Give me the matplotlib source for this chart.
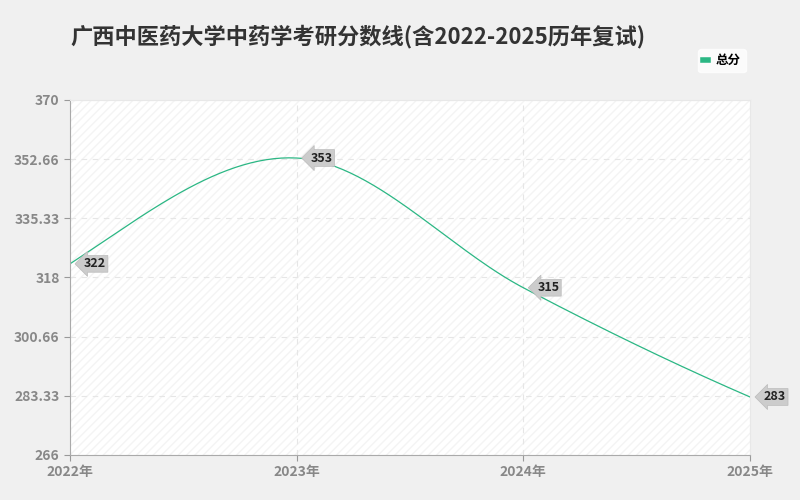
import matplotlib
matplotlib.use("Agg")
import matplotlib.pyplot as plt
import numpy as np

plt.rcParams['font.family'] = ['Noto Sans CJK SC', 'DejaVu Sans']

years = [2022, 2023, 2024, 2025]
xlabels = ['2022年', '2023年', '2024年', '2025年']
values = [322, 353, 315, 283]
yticks = [266, 283.33, 300.66, 318, 335.33, 352.66, 370]
ytlabels = ['266', '283.33', '300.66', '318', '335.33', '352.66', '370']
series_name = '总分'
color = '#2bb784'

fig = plt.figure(figsize=(8, 5), dpi=100, facecolor='#f0f0f0')
ax = fig.add_axes([70/800, 45/500, 680/800, 355/500])
ax.set_facecolor('white')
ax.patch.set_hatch('////')
ax.patch.set_edgecolor('#f4f4f4')

# smooth curve (Catmull-Rom style cubic Hermite rendering)
x = np.array(years, float); y = np.array(values, float)
m = np.zeros_like(y)
for i in range(1, len(y)-1):
    m[i] = (y[i+1] - y[i-1]) / (x[i+1] - x[i-1])
m[0] = (y[1] - y[0]) / (x[1] - x[0]) * 1.4
m[-1] = (y[-1] - y[-2]) / (x[-1] - x[-2]) * 0.9
xs, ys = [], []
for i in range(len(x)-1):
    t = np.linspace(0, 1, 60); h = x[i+1]-x[i]
    h00 = 2*t**3-3*t**2+1; h10 = t**3-2*t**2+t; h01 = -2*t**3+3*t**2; h11 = t**3-t**2
    xs.extend(x[i] + t*h); ys.extend(h00*y[i] + h10*h*m[i] + h01*y[i+1] + h11*h*m[i+1])
ax.plot(xs, ys, color=color, lw=0.9, label=series_name)

for xi, yi in zip(years, values):
    ax.annotate(str(yi), (xi, yi), xytext=(10, 0), textcoords='offset points',
                va='center', ha='left', fontsize=9, color='#222', fontweight='bold',
                bbox=dict(boxstyle='larrow,pad=0.15', fc='#cccccc', ec='#bbbbbb', lw=0.5))

ax.set_xlim(2022, 2025)
ax.set_ylim(266, 370)
ax.set_xticks(years); ax.set_xticklabels(xlabels)
ax.set_yticks(yticks); ax.set_yticklabels(ytlabels)
ax.tick_params(colors='#999999', labelsize=10, length=4)
for lbl in ax.get_xticklabels() + ax.get_yticklabels():
    lbl.set_color('#888888'); lbl.set_fontweight('bold')
ax.grid(True, ls=(0, (5, 5)), color='#e6e6e6', lw=0.8)
for s in ['top', 'right']:
    ax.spines[s].set_color('#e8e8e8')
for s in ['left', 'bottom']:
    ax.spines[s].set_color('#aaaaaa')

fig.text(70/800, 1-37/500, '广西中医药大学中药学考研分数线(含2022-2025历年复试)', fontsize=16,
         fontweight='bold', color='#333333', va='center', ha='left')
leg = fig.legend(loc='upper right', bbox_to_anchor=(752/800, 1-43/500), fontsize=9,
                 handlelength=0.4, handletextpad=0.6, frameon=True, borderpad=0.4,
                 prop={'weight': 'bold', 'size': 9})
leg.get_frame().set_facecolor('white'); leg.get_frame().set_edgecolor('white')
for h in leg.legend_handles:
    h.set_linewidth(4)

fig.savefig('out.png', dpi=100, facecolor=fig.get_facecolor())
